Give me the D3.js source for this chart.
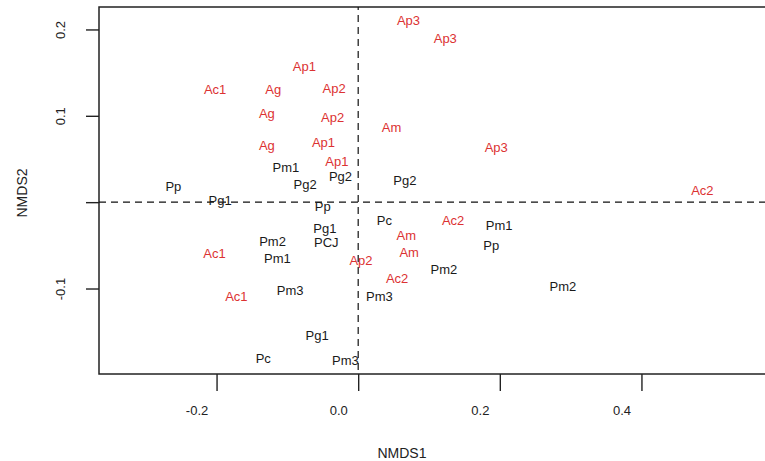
<!DOCTYPE html>
<html>
<head>
<meta charset="utf-8">
<script src="https://cdn.jsdelivr.net/npm/d3@7"></script>
<style>
  body { margin: 0; background: #fff; }
  svg { font-family: "Liberation Sans", Arial, sans-serif; }
</style>
</head>
<body>
<svg id="nmds" width="765" height="461"></svg>
<script>
// site labels with their NMDS scores (red = "A" sites, black = "P" sites)
const labels = ["Ac1","Ag","Ap1","Ap2","Ag","Ap2","Ag","Ap1","Ap1","Pm1","Pg2","Pg2","Pp","Pg1","Pp",
                "Ap3","Ap3","Am","Ap3","Pg2","Ac2",
                "Pg1","PCJ","Pm2","Ac1","Pm1","Ap2","Pm3","Ac1","Pg1","Pc","Pm3",
                "Pc","Ac2","Pm1","Am","Am","Pp","Pm2","Ac2","Pm3","Pm2"];
const nmds1 = [-0.202,-0.120,-0.076,-0.034,-0.129,-0.036,-0.129,-0.049,-0.030,-0.102,-0.025,-0.075,-0.261,-0.195,-0.050,
               0.071,0.123,0.047,0.195,0.066,0.486,
               -0.047,-0.045,-0.121,-0.203,-0.114,0.004,-0.096,-0.172,-0.058,-0.134,-0.018,
               0.037,0.134,0.199,0.068,0.072,0.188,0.121,0.055,0.030,0.289];
const nmds2 = [0.130,0.131,0.157,0.132,0.103,0.098,0.066,0.069,0.047,0.040,0.030,0.020,0.018,0.0015,-0.005,
               0.210,0.190,0.086,0.063,0.025,0.014,
               -0.031,-0.047,-0.046,-0.060,-0.065,-0.068,-0.102,-0.109,-0.154,-0.181,-0.183,
               -0.021,-0.021,-0.027,-0.039,-0.058,-0.050,-0.078,-0.088,-0.109,-0.098];
const xTicks = [-0.2, 0.0, 0.2, 0.4];
const yTicks = [-0.1, 0.0, 0.1, 0.2];
const yTickLabels = ["-0.1", "", "0.1", "0.2"];

const plot = { left: 99, top: 7, right: 776, bottom: 374 };
const svg = d3.select("#nmds");

const x = d3.scaleLinear().domain([-0.366, 0.59]).range([plot.left, plot.right]);
const y = d3.scaleLinear().domain([-0.199, 0.226]).range([plot.bottom, plot.top]);

// bottom axis (labels sit a bit left of the ticks, like the original)
const xAxis = svg.append("g")
  .attr("transform", `translate(0,${plot.bottom})`)
  .call(d3.axisBottom(x).tickValues(xTicks).tickSize(17).tickFormat(d => d.toFixed(1)));
xAxis.select(".domain").remove();
xAxis.selectAll(".tick line").attr("stroke", "#222").attr("stroke-width", 1.4);
xAxis.selectAll(".tick text")
  .attr("x", -20).attr("y", 32)
  .attr("font-size", 13).attr("fill", "#222");

// left axis, rotated labels
const yAxis = svg.append("g")
  .attr("transform", `translate(${plot.left},0)`)
  .call(d3.axisLeft(y).tickValues(yTicks).tickSize(13).tickFormat((d, i) => yTickLabels[i]));
yAxis.select(".domain").remove();
yAxis.selectAll(".tick line").attr("stroke", "#222").attr("stroke-width", 1.4);
yAxis.selectAll(".tick text")
  .attr("x", null).attr("dy", null)
  .attr("text-anchor", "middle")
  .attr("dominant-baseline", "central")
  .attr("transform", "translate(-39,0) rotate(-90)")
  .attr("font-size", 13).attr("fill", "#222");

// plot box (right edge runs off the picture)
svg.append("rect")
  .attr("x", plot.left).attr("y", plot.top)
  .attr("width", plot.right - plot.left).attr("height", plot.bottom - plot.top)
  .attr("fill", "none").attr("stroke", "#222").attr("stroke-width", 1.5);

// reference lines at zero
svg.append("line")
  .attr("x1", plot.left).attr("x2", plot.right)
  .attr("y1", y(0)).attr("y2", y(0))
  .attr("stroke", "#111").attr("stroke-width", 1.2).attr("stroke-dasharray", "7,5");
svg.append("line")
  .attr("x1", x(0)).attr("x2", x(0))
  .attr("y1", plot.top).attr("y2", plot.bottom)
  .attr("stroke", "#111").attr("stroke-width", 1.2).attr("stroke-dasharray", "7,5").attr("stroke-dashoffset", -8);

// site labels
svg.append("g").selectAll("text")
  .data(labels)
  .join("text")
  .attr("x", (d, i) => x(nmds1[i]))
  .attr("y", (d, i) => y(nmds2[i]))
  .attr("text-anchor", "middle")
  .attr("dominant-baseline", "central")
  .attr("font-size", 13)
  .attr("fill", d => d[0] === "A" ? "#dc3232" : "#1a1a1a")
  .text(d => d);

// axis titles
svg.append("text")
  .attr("x", 402).attr("y", 453)
  .attr("text-anchor", "middle").attr("dominant-baseline", "central")
  .attr("font-size", 14).attr("fill", "#222")
  .text("NMDS1");
svg.append("text")
  .attr("transform", "translate(22,193) rotate(-90)")
  .attr("text-anchor", "middle").attr("dominant-baseline", "central")
  .attr("font-size", 14).attr("fill", "#222")
  .text("NMDS2");
</script>
</body>
</html>
